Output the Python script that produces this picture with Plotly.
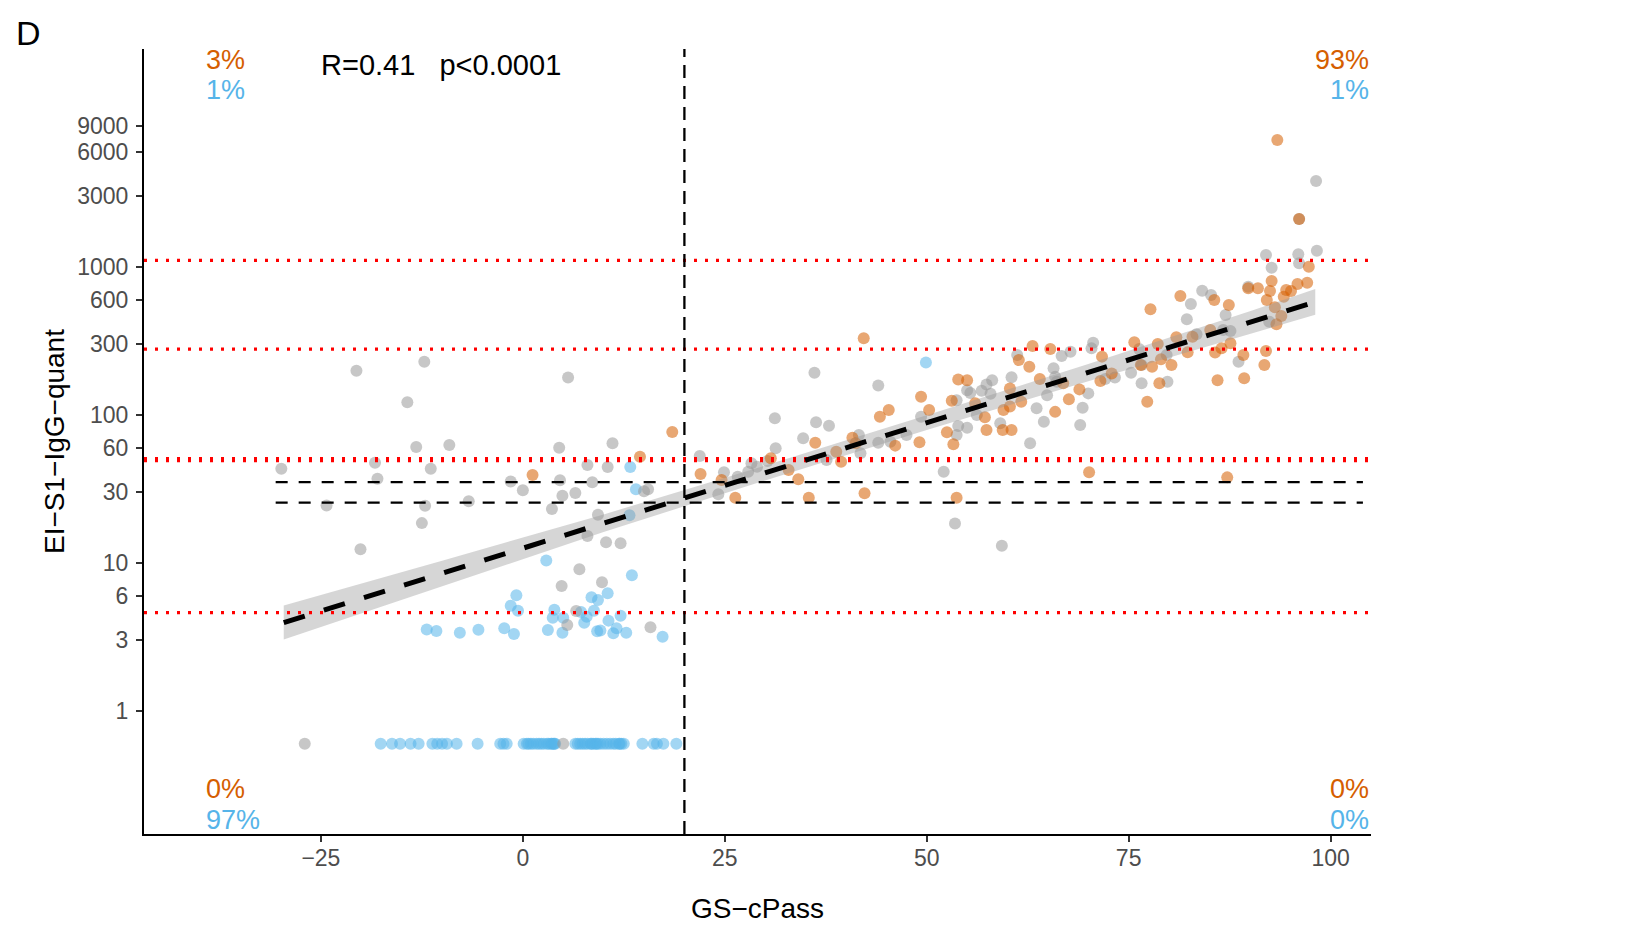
import numpy as np
import plotly.graph_objects as go

# ---------------- data ----------------
gray_x = [-20.6, -12.2, -14.3, 5.6, -29.9, -18.3, -18.0, -13.2, -9.1, -11.4, -24.3, -12.1, -12.5,
          -20.1, -6.7, 4.5, 11.1, 8.0, 10.5, -1.5, 4.6, 0.0, 8.6, 4.9, 6.5, 3.6, 15.5, 15.0, 9.3,
          8.0, 10.3, 12.1, 7.0, 4.8, 9.8, 6.6, 5.5, 15.8, 21.9, -27.0, 5.0,
          24.9, 24.2, 26.6, 27.9, 28.3, 30.3, 31.3, 31.2, 36.1, 36.3, 37.9, 34.7, 37.6, 41.6, 41.8,
          44.0, 44.0, 47.5, 49.3, 52.1, 53.5, 53.7, 53.9, 53.7, 55.0, 55.0, 55.4, 56.8, 57.4, 58.1,
          57.9, 56.2, 59.1, 60.5, 61.2, 59.3, 29.0, 45.5,
          62.8, 63.6, 64.5, 64.9, 65.7, 65.9, 66.1, 66.7, 67.8, 69.0, 69.3, 70.0, 70.6, 70.4, 72.1,
          73.3, 75.3, 76.3, 76.6, 76.6, 79.7, 79.8, 82.2, 82.7, 84.1, 85.2, 83.4, 87.0, 86.7, 87.6,
          88.6, 89.8, 92.0, 92.7, 92.4, 96.0, 96.1, 98.3, 98.2, 96.1]
gray_y = [199, 229, 122, 179, 43.4, 47.6, 37.1, 60.8, 62.7, 43.4, 24.5, 24.4, 18.6,
          12.4, 26.1, 60.1, 64.4, 45.9, 44.5, 35.6, 36.2, 31.0, 35.1, 28.5, 29.7, 23.2, 31.5, 30.5, 21.2,
          15.2, 13.8, 13.6, 9.06, 7.0, 7.4, 4.74, 3.81, 3.68, 52.8, 0.6, 0.6,
          41.0, 29.1, 38.3, 41.4, 47.2, 48.9, 59.6, 95.0, 193, 89.3, 84.7, 69.6, 49.6, 73.2, 55.1,
          158, 65.0, 73.2, 97.4, 41.4, 18.5, 126, 84.3, 73.2, 82.1, 147, 141, 146, 161, 172,
          139, 100, 87.9, 180, 254, 13.1, 44.7, 66,
          64.4, 111, 90.1, 136, 207, 181, 168, 250, 268, 85.6, 112, 140, 308, 282, 175,
          179, 193, 279, 164, 218, 254, 168, 443, 562, 692, 647, 351, 474, 375, 370,
          229, 736, 1206, 989, 427, 1219, 1059, 1289, 3811, 2110]

orange_x = [1.2, 14.5, 18.5, 22.0,
            26.3, 24.6, 30.7, 32.9, 34.1, 35.4, 36.2, 38.8, 39.4, 40.8, 41.2, 42.3, 42.2, 44.2, 45.3,
            46.1, 49.1, 49.3, 50.3, 52.5, 53.1, 53.3, 53.7, 53.9, 55.0, 56.0, 57.2, 57.4, 59.4, 60.5,
            59.5, 60.3, 60.3, 61.4,
            61.7, 63.1, 62.7, 64.0, 65.3, 65.9, 66.9, 67.6, 68.9, 71.5, 71.7, 72.9, 75.7, 76.5, 77.3,
            77.7, 77.9, 78.6, 79.0, 78.8, 80.3, 80.9, 81.4, 82.3, 82.9, 85.1, 85.6, 85.7, 86.0, 86.5,
            87.4, 87.6, 89.2, 89.3, 89.8, 91.0, 92.0, 91.8, 92.1, 92.5, 92.7, 93.1, 93.3, 93.9, 94.2,
            94.5, 95.1, 95.9, 97.1, 97.3, 93.4, 96.1, 70.1, 87.2]
orange_y = [39.3, 52.3, 76.8, 39.9,
            27.6, 36.4, 51.0, 42.5, 36.8, 27.6, 65.0, 56.5, 48.4, 70.3, 64.4, 29.6, 330, 97.4, 108,
            62.1, 65.4, 133, 108, 76.4, 125, 63.4, 27.6, 174, 172, 120, 96.5, 79.2, 79.2, 79.2,
            108, 114, 151, 235,
            123, 293, 212, 175, 279, 105, 164, 128, 149, 170, 248, 191, 310, 218, 123,
            518, 212, 302, 238, 164, 218, 335, 637, 265, 338, 375, 598, 264, 172, 282,
            554, 305, 254, 177, 718, 718, 271, 218, 598, 689, 804, 534, 410, 467, 630,
            700, 689, 768, 783, 1005, 7211, 2110, 41.0, 37.9]

blue_x = [13.3, 14.0, 13.2, 2.9, 13.5, -0.8, -1.5, -0.6, 8.5, 9.3, 10.5, 3.9, 3.7, 5.0, 7.2, 8.8,
          7.9, 7.6, 12.1, 10.6, 11.6, 9.2, 9.6, 11.2, 12.8, 17.3, 4.9, 3.1, -1.1, -2.3, -5.5, -7.8,
          -10.7, -11.9, 49.9,
          -17.6, -16.2, -15.2, -13.9, -12.9, -11.2, -10.6, -10.0, -9.4, -8.2, -5.6, -2.8, -2.4, -2.0,
          0.1, 0.5, 0.7, 1.0, 1.3, 1.7, 2.0, 2.3, 2.6, 3.0, 3.2, 3.5, 3.6, 3.8, 3.9, 4.0,
          6.5, 6.8, 7.1, 7.4, 7.7, 8.0, 8.4, 8.5, 8.7, 9.0, 9.1, 9.3, 9.6, 10.0, 10.4, 10.8, 11.2,
          11.5, 11.9, 12.0, 12.2, 12.5, 14.8, 16.2, 16.6, 17.4, 19.0]
blue_y = [44.5, 31.5, 21.0, 10.4, 8.26, 6.05, 5.15, 4.76, 5.87, 5.62, 6.24, 4.84, 4.27, 4.27, 4.67, 4.76,
          4.34, 3.95, 4.40, 4.08, 3.62, 3.46, 3.5, 3.35, 3.38, 3.18, 3.38, 3.53, 3.31, 3.62, 3.54, 3.38,
          3.47, 3.56, 226,
          0.6, 0.6, 0.6, 0.6, 0.6, 0.6, 0.6, 0.6, 0.6, 0.6, 0.6, 0.6, 0.6, 0.6,
          0.6, 0.6, 0.6, 0.6, 0.6, 0.6, 0.6, 0.6, 0.6, 0.6, 0.6, 0.6, 0.6, 0.6, 0.6, 0.6,
          0.6, 0.6, 0.6, 0.6, 0.6, 0.6, 0.6, 0.6, 0.6, 0.6, 0.6, 0.6, 0.6, 0.6, 0.6, 0.6, 0.6,
          0.6, 0.6, 0.6, 0.6, 0.6, 0.6, 0.6, 0.6, 0.6, 0.6]

# regression line and its confidence band
fit_x = [-29.6, 98.1]
fit_y = [3.96, 581]
band_x = [-29.6, -10, 10, 30, 50, 70, 90, 98.1]
band_lo = [3.04, 7.0, 16.2, 36.1, 79.1, 169.4, 355.6, 475]
band_hi = [5.16, 10.35, 21.3, 45.5, 99.5, 221.3, 502.3, 710]

red_levels = [1110, 279, 50.8, 49.2, 4.62]
black_levels = [35.2, 25.6]
black_span = [-30.6, 104.0]
cutoff_x = 20

xtick_vals = [-25, 0, 25, 50, 75, 100]
xtick_text = ["\u221225", "0", "25", "50", "75", "100"]
ytick_vals = [1, 3, 6, 10, 30, 60, 100, 300, 600, 1000, 3000, 6000, 9000]
ytick_text = [str(v) for v in ytick_vals]

pct_top_left = ["3%", "1%"]
pct_top_right = ["93%", "1%"]
pct_bot_left = ["0%", "97%"]
pct_bot_right = ["0%", "0%"]

# ---------------- style ----------------
FONT = "Liberation Sans, Arial, Helvetica, sans-serif"
ORANGE = "#D55E00"
BLUE = "#56B4E9"
GRAY = "#999999"
X_RANGE = [-46.9, 105.0]
Y_RANGE_LOG = [-0.831, 4.473]
BODY = 8  # default page margin of the html body
W, H = 1645 - 2 * BODY, 932 - 2 * BODY
# plot area in page pixels: left 144, right 1371, top 49, bottom 834
ML, MT = 144 - BODY, 49 - BODY
MR, MB = W - (1371 - BODY), H - (834 - BODY)

fig = go.Figure()

def pts(x, y, color):
    fig.add_trace(go.Scatter(x=x, y=y, mode="markers", showlegend=False, hoverinfo="skip",
                             marker=dict(size=12, color=color, opacity=0.55, line=dict(width=0))))

pts(blue_x, blue_y, BLUE)
pts(gray_x, gray_y, GRAY)
pts(orange_x, orange_y, ORANGE)

# confidence band
fig.add_trace(go.Scatter(x=band_x + band_x[::-1], y=band_lo + band_hi[::-1], mode="lines",
                         fill="toself", fillcolor="rgba(153,153,153,0.4)", line=dict(width=0),
                         showlegend=False, hoverinfo="skip"))

# reference lines
ylo, yhi = 10 ** Y_RANGE_LOG[0], 10 ** Y_RANGE_LOG[1]
for lv in red_levels:
    fig.add_trace(go.Scatter(x=X_RANGE, y=[lv, lv], mode="lines", showlegend=False, hoverinfo="skip",
                             line=dict(color="#FF0000", width=3.2, dash="3px,8px")))
for lv in black_levels:
    fig.add_trace(go.Scatter(x=black_span, y=[lv, lv], mode="lines", showlegend=False, hoverinfo="skip",
                             line=dict(color="black", width=2.3, dash="12px,11px")))
fig.add_trace(go.Scatter(x=[cutoff_x, cutoff_x], y=[ylo, yhi], mode="lines", showlegend=False,
                         hoverinfo="skip", line=dict(color="black", width=2.3, dash="13px,8px")))

# regression line
fig.add_trace(go.Scatter(x=fit_x, y=fit_y, mode="lines", showlegend=False, hoverinfo="skip",
                         line=dict(color="black", width=5, dash="22px,20px")))

ann = []
def txt(x, y, s, color, anchor, size=27, xref="x", yref="y"):
    ann.append(dict(x=x, y=y, xref=xref, yref=yref, text=s, showarrow=False, xanchor=anchor,
                    yanchor="middle", font=dict(family=FONT, size=size, color=color)))

lx, rx = -39.5, 105.0
rows_top = [np.log10(25000), np.log10(15800)]
rows_bot = [np.log10(0.297), np.log10(0.1835)]
for i, c in enumerate([ORANGE, BLUE]):
    txt(lx, rows_top[i], pct_top_left[i], c, "left")
    txt(rx, rows_top[i], pct_top_right[i], c, "right")
    txt(lx, rows_bot[i], pct_bot_left[i], c, "left")
    txt(rx, rows_bot[i], pct_bot_right[i], c, "right")

txt(-25.2, np.log10(23200), "R=0.41\u00a0\u00a0\u00a0p<0.0001", "black", "left", size=29)

pw, ph = W - ML - MR, H - MT - MB
txt((28 - BODY - ML) / pw, (H - MB - (33 - BODY)) / ph, "D", "black", "center", size=34,
    xref="paper", yref="paper")

fig.update_layout(
    width=W, height=H,
    margin=dict(l=ML, r=MR, t=MT, b=MB, autoexpand=False),
    paper_bgcolor="white", plot_bgcolor="white",
    font=dict(family=FONT),
    annotations=ann,
    xaxis=dict(range=X_RANGE, showgrid=False, zeroline=False, showline=True, linecolor="black",
               linewidth=2.2, ticks="outside", ticklen=6, tickwidth=2, tickcolor="#333333",
               tickvals=xtick_vals, ticktext=xtick_text, ticklabelstandoff=-4,
               tickfont=dict(family=FONT, size=23, color="#4D4D4D"),
               title=dict(text="GS\u2212cPass", font=dict(family=FONT, size=28, color="black"), standoff=40)),
    yaxis=dict(type="log", range=Y_RANGE_LOG, showgrid=False, zeroline=False, showline=True,
               linecolor="black", linewidth=2.2, ticks="outside", ticklen=6, tickwidth=2,
               tickcolor="#333333", tickvals=ytick_vals, ticktext=ytick_text, ticklabelstandoff=3,
               tickfont=dict(family=FONT, size=23, color="#4D4D4D"),
               title=dict(text="EI\u2212S1\u2212IgG\u2212quant", font=dict(family=FONT, size=28, color="black"),
                          standoff=4)),
)

fig.write_html("out.html")
